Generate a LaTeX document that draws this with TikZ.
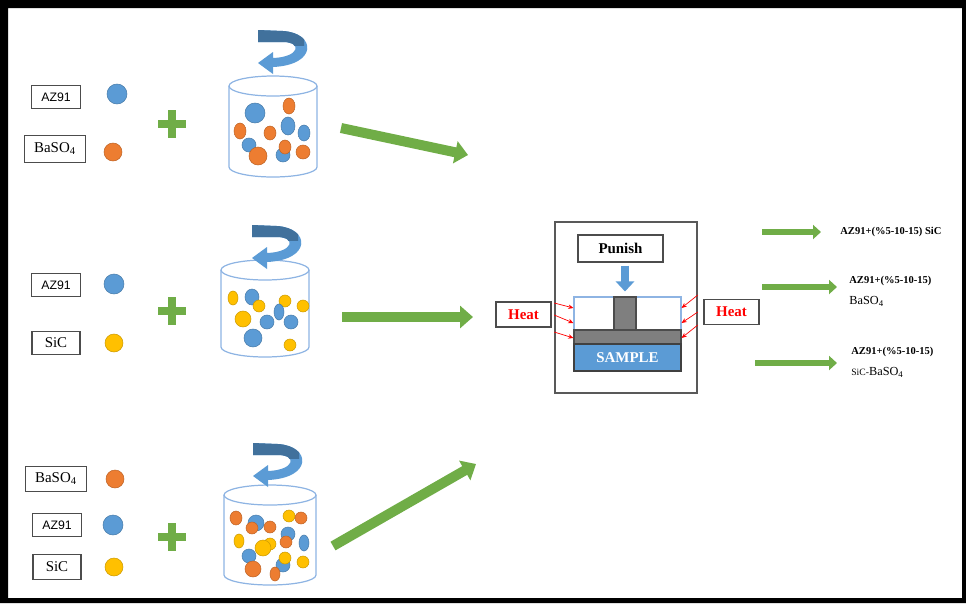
\documentclass[tikz,border=0pt]{standalone}
\usepackage{fontspec}
\setmainfont{Liberation Serif}
\newfontfamily\azfont{Liberation Sans}
\usetikzlibrary{arrows.meta,calc,positioning}

\definecolor{pblue}{HTML}{5B9BD5}
\definecolor{porange}{HTML}{ED7D31}
\definecolor{pyellow}{HTML}{FFC000}
\definecolor{pgreen}{HTML}{70AD47}
\definecolor{pgray}{HTML}{7F7F7F}
\definecolor{spindark}{HTML}{41719C}
\definecolor{glassblue}{HTML}{8EB4E3}

% one particle: x, y, colour, x radius, y radius (px)
\newcommand{\bead}[5]{\filldraw[fill=#3,draw=#3!80!black,line width=0.3pt] (#1,#2) ellipse[x radius=#4*0.02cm,y radius=#5*0.02cm];}
% glass: centre x, top y, bottom y, half width
\newcommand{\beaker}[4]{%
  \draw[glass] (#1-#4,#2) -- (#1-#4,#3) arc[start angle=180,end angle=360,x radius=#4*0.02cm,y radius=0.2cm] -- (#1+#4,#2);
  \draw[glass] (#1,#2) ellipse[x radius=#4*0.02cm,y radius=0.2cm];}
% turning arrow over a glass
\newcommand{\spinpath}{(0,0) -- (25,1) .. controls (58,3) and (60,35) .. (15,37) -- (15,44) -- (0,33) -- (15,22) -- (15,28) .. controls (42,27) and (44,12) .. (25,12) -- (0,12) -- cycle}
\newcommand{\spin}[2]{%
  \begin{scope}[shift={(#1,#2)}]
    \fill[pblue] \spinpath;
    \begin{scope}
      \clip (-2,-2) rectangle (46,15);
      \fill[spindark] \spinpath;
    \end{scope}
  \end{scope}}

\tikzset{
  tag/.style={draw=black!70, line width=0.6pt, inner xsep=0.2cm, inner ysep=0pt,
    minimum width=0.96cm, minimum height=0.46cm, font=\fontsize{8.5}{9}\selectfont},
  aztag/.style={tag, font=\azfont\fontsize{7}{8}\selectfont},
  ball/.style={circle, inner sep=0pt, minimum size=0.4cm, fill=#1, draw=#1!80!black, line width=0.3pt},
  glass/.style={draw=glassblue, line width=0.7pt},
  flow/.style={pgreen, line width=0.2cm, -{Triangle[length=0.26cm,width=0.44cm]}},
  result/.style={pgreen, line width=0.12cm, -{Triangle[length=0.16cm,width=0.28cm]}},
  heatbox/.style={draw=black!70, line width=0.6pt, minimum width=1.1cm, minimum height=0.5cm,
    inner sep=0pt, text=red, font=\bfseries\fontsize{8.5}{9}\selectfont},
  heatarr/.style={red, line width=0.4pt, -{Stealth[length=3pt,width=2.5pt]}},
  part/.style={inner sep=0pt, line width=0.6pt},
}

\begin{document}
\begin{tikzpicture}[x=0.02cm,y=-0.02cm]
  \useasboundingbox (0,0) rectangle (966,603);
  \fill[black, even odd rule] (0,0) rectangle (966,603) (8,8) rectangle (962,598);

  % AZ91 + BaSO4
  \node[aztag] (az1) at (56,97) {AZ91};
  \node[tag, minimum height=0.54cm] (ba1) at (55,149) {BaSO\textsubscript{4}};
  \node[ball=pblue] (az1b) at (117,94) {};
  \node[ball=porange, minimum size=0.36cm] (ba1b) at (113,152) {};

  % AZ91 + SiC
  \node[aztag] (az2) at (56,285) {AZ91};
  \node[tag] (sic2) at (56,343) {SiC};
  \node[ball=pblue] (az2b) at (114,284) {};
  \node[ball=pyellow, minimum size=0.36cm] (sic2b) at (114,343) {};

  % BaSO4 + AZ91 + SiC
  \node[tag, minimum height=0.5cm] (ba3) at (56,479) {BaSO\textsubscript{4}};
  \node[aztag] (az3) at (57,525) {AZ91};
  \node[tag, minimum height=0.5cm] (sic3) at (57,567) {SiC};
  \node[ball=porange, minimum size=0.36cm] (ba3b) at (115,479) {};
  \node[ball=pblue] (az3b) at (113,525) {};
  \node[ball=pyellow, minimum size=0.36cm] (sic3b) at (114,567) {};

  % plus signs
  \foreach \y in {124,311,537} {
    \fill[pgreen] (158,\y-4) rectangle (186,\y+4);
    \fill[pgreen] (168,\y-14) rectangle (176,\y+14);
  }

  % glasses with particles
  \beaker{273}{86}{167}{44}
  \foreach \x/\y/\c/\a/\b in {255/113/pblue/10/10, 289/106/porange/6/8, 240/131/porange/6/8,
      288/126/pblue/7/9, 270/133/porange/6/7, 304/133/pblue/6/8, 249/145/pblue/7/7,
      283/155/pblue/7/7, 258/156/porange/9/9, 285/147/porange/6/7, 303/152/porange/7/7}
    {\bead{\x}{\y}{\c}{\a}{\b}}
  \spin{258}{30}

  \beaker{265}{270}{347}{44}
  \foreach \x/\y/\c/\a/\b in {233/298/pyellow/5/7, 252/297/pblue/7/8, 259/306/pyellow/6/6,
      285/301/pyellow/6/6, 303/306/pyellow/6/6, 243/319/pyellow/8/8, 267/322/pblue/7/7,
      279/312/pblue/5/8, 291/322/pblue/7/7, 253/338/pblue/9/9, 290/345/pyellow/6/6}
    {\bead{\x}{\y}{\c}{\a}{\b}}
  \spin{252}{225}

  \beaker{270}{495}{575}{46}
  \foreach \x/\y/\c/\a/\b in {236/518/porange/6/7, 256/523/pblue/8/8, 252/528/porange/6/6,
      270/527/porange/6/6, 289/516/pyellow/6/6, 301/518/porange/6/6, 239/541/pyellow/5/7,
      288/534/pblue/7/7, 286/542/porange/6/6, 270/544/pyellow/6/6, 263/548/pyellow/8/8,
      304/543/pblue/5/8, 249/556/pblue/7/7, 283/565/pblue/7/7, 285/558/pyellow/6/6,
      303/562/pyellow/6/6, 253/569/porange/8/8, 275/574/porange/5/7}
    {\bead{\x}{\y}{\c}{\a}{\b}}
  \spin{253}{443}

  % hot press
  \node[draw=black!65, line width=0.9pt, minimum width=2.84cm, minimum height=3.42cm] (press) at (626,307.5) {};
  \node[part, draw=black!70, minimum width=1.7cm, minimum height=0.54cm, font=\bfseries\fontsize{8.5}{9}\selectfont] (punish) at (620.5,248.5) {Punish};
  \node[part, draw=glassblue, minimum width=2.14cm, minimum height=0.66cm] (die) at (627.5,313.5) {};
  \node[part, fill=pgray, draw=black!70, minimum width=0.44cm, minimum height=0.66cm] (stem) at (625,313.5) {};
  \node[part, fill=pgray, draw=black!70, minimum width=2.14cm, minimum height=0.28cm] (plate) at (627.5,337) {};
  \node[part, fill=pblue, draw=black!75, minimum width=2.14cm, minimum height=0.54cm,
    text=white, font=\bfseries\fontsize{8.5}{9}\selectfont] (sample) at (627.5,357.5) {SAMPLE};
  \draw[pblue, line width=0.16cm, -{Triangle[length=0.2cm,width=0.36cm]}, shorten <=0.06cm, shorten >=0.1cm]
    (punish.south -| stem) -- (stem.north);

  \node[heatbox] (heatL) at (523.5,314.5) {Heat};
  \node[heatbox] (heatR) at (731.5,312) {Heat};
  \foreach \s/\e in {303/308,315/323,332/338}
    \draw[heatarr] (press.west |- 0,\s) -- (die.west |- 0,\e);
  \foreach \s/\e in {295/308,312/323,325/338}
    \draw[heatarr] (press.east |- 0,\s) -- (die.east |- 0,\e);

  % mixtures into the press
  \coordinate (m1) at (341,128);
  \coordinate (p1) at (468,155);
  \coordinate (m2) at (342,317);
  \coordinate (p2) at (473,317);
  \coordinate (m3) at (333,546);
  \coordinate (p3) at (476,464);
  \draw[flow] (m1) -- (p1);
  \draw[flow] (m2) -- (p2);
  \draw[flow] (m3) -- (p3);

  % products
  \node[anchor=west, inner sep=0pt, font=\bfseries\fontsize{6}{7}\selectfont] (res1) at (840,232) {AZ91+(\%5-10-15) SiC};
  \node[anchor=west, inner sep=0pt, align=left] (res2) at (849,291)
    {{\bfseries\fontsize{6}{7}\selectfont AZ91+(\%5-10-15)}\\{\fontsize{7}{8}\selectfont BaSO\textsubscript{4}}};
  \node[anchor=west, inner sep=0pt, align=left] (res3) at (851,362)
    {{\bfseries\fontsize{6}{7}\selectfont AZ91+(\%5-10-15)}\\{\fontsize{5.5}{6}\selectfont SiC-}{\fontsize{7}{8}\selectfont BaSO\textsubscript{4}}};
  \coordinate (o1) at (762,232);
  \coordinate (e1) at (821,232);
  \coordinate (o2) at (762,287);
  \coordinate (e2) at (837,287);
  \coordinate (o3) at (755,363);
  \coordinate (e3) at (837,363);
  \draw[result] (o1) -- (e1);
  \draw[result] (o2) -- (e2);
  \draw[result] (o3) -- (e3);
\end{tikzpicture}
\end{document}
